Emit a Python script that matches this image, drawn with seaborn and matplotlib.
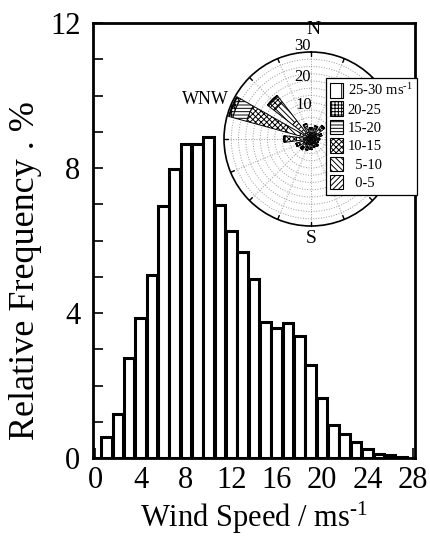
import numpy as np
import matplotlib
matplotlib.use('Agg')
import matplotlib.pyplot as plt
import seaborn as sns
from matplotlib.patches import Patch

# histogram data: bin centre (m/s) and relative frequency (%)
speed_bins = list(range(1, 28))
rel_freq = [0.57, 1.21, 2.75, 3.85, 5.05, 6.95, 7.96, 8.65, 8.65, 8.86,
            6.98, 6.27, 5.69, 4.94, 3.74, 3.58, 3.72, 3.37, 2.57, 1.65,
            0.91, 0.66, 0.43, 0.25, 0.11, 0.07, 0.03]

# wind rose data: 16 directions, frequency (%) per speed class
directions = ['N', 'NNE', 'NE', 'ENE', 'E', 'ESE', 'SE', 'SSE',
              'S', 'SSW', 'SW', 'WSW', 'W', 'WNW', 'NW', 'NNW']
dir_deg = [i * 22.5 for i in range(16)]
c0_5 = [2.0, 2.3, 2.5, 2.0, 1.6, 1.6, 1.8, 1.6, 1.8, 2.0, 2.3, 2.5, 2.5, 4.0, 8.0, 2.5]
c5_10 = [1.2, 1.4, 1.8, 1.2, 0.9, 0.8, 0.9, 0.9, 1.1, 1.2, 1.4, 1.6, 2.5, 5.0, 8.0, 2.0]
c10_15 = [0.6, 0.8, 1.2, 0.6, 0.4, 0.3, 0.4, 0.4, 0.6, 0.7, 0.8, 1.0, 4.0, 14.0, 2.5, 0.8]
c15_20 = [0.1, 0.2, 0.4, 0.1, 0.1, 0.0, 0.1, 0.1, 0.1, 0.2, 0.2, 0.3, 0.3, 5.0, 0.5, 0.2]
c20_25 = [0.0, 0.0, 0.1, 0.0, 0.0, 0.0, 0.0, 0.0, 0.0, 0.0, 0.0, 0.0, 0.0, 1.2, 0.0, 0.0]
c25_30 = [0.0, 0.0, 0.0, 0.0, 0.0, 0.0, 0.0, 0.0, 0.0, 0.0, 0.0, 0.0, 0.0, 0.3, 0.0, 0.0]
class_vals = [c0_5, c5_10, c10_15, c15_20, c20_25, c25_30]
hatches = ['//////', '\\\\\\\\\\\\', 'xxxxxx', '-----', '+++++', '|']
legend_labels = ['  0-5', '  5-10', '10-15', '15-20', '20-25',
                 r'25-30 ms$^{\text{-1}}$']

sns.set_style('ticks')
plt.rcParams['font.family'] = ['Liberation Serif', 'DejaVu Serif']
plt.rcParams['mathtext.fontset'] = 'custom'
plt.rcParams['mathtext.rm'] = 'Liberation Serif'
plt.rcParams['mathtext.it'] = 'Liberation Serif:italic'
plt.rcParams['hatch.linewidth'] = 0.7
for k in ['text.color', 'axes.labelcolor', 'xtick.color', 'ytick.color', 'axes.edgecolor']:
    plt.rcParams[k] = 'black'

W, H = 431, 538
fig = plt.figure(figsize=(W / 100, H / 100), dpi=100)


def px(x, y):
    return x / W, 1 - y / H


# main histogram
ax = fig.add_axes([93 / W, 1 - 458 / H, (415 - 93) / W, (458 - 23) / H])
sns.barplot(x=speed_bins, y=rel_freq, native_scale=True, width=0.92,
            color='white', saturation=1, edgecolor='black', linewidth=2.2, ax=ax)
ax.set_xlim(-0.2, 28.2)
ax.set_ylim(0, 12)
ax.set_xticks(range(0, 29, 4))
ax.set_yticks(range(0, 13, 4))
ax.set_yticks(range(0, 13), minor=True)
ax.tick_params(axis='both', which='both', direction='in', labelsize=22,
               width=1.2, length=7, top=False, right=False)
ax.tick_params(axis='y', pad=9)
ax.tick_params(axis='x', pad=6)
for s in ax.spines.values():
    s.set_linewidth(2)
ax.set_xlabel(r'Wind Speed / ms$^{\text{-1}}$', fontsize=22, labelpad=3)
ax.set_ylabel('Relative Frequency . %', fontsize=26)
ax.yaxis.set_label_coords(-0.158, 0.43)

# wind rose inset
cx, cy, r = 311, 139, 87
pax = fig.add_axes([(cx - r) / W, 1 - (cy + r) / H, 2 * r / W, 2 * r / H],
                   projection='polar')
pax.set_theta_zero_location('N')
pax.set_theta_direction(-1)
theta = np.deg2rad(dir_deg)
bottom = np.zeros(len(theta))
for vals, hatch in zip(class_vals, hatches):
    v = np.array(vals)
    pax.bar(theta, v, width=0.25, bottom=bottom, color='white',
            edgecolor='black', hatch=hatch, linewidth=0.7, zorder=3)
    bottom += v
pax.set_ylim(0, 30)
pax.set_yticks(np.arange(2.5, 30, 2.5))
pax.set_yticklabels([])
pax.set_xticks(theta)
pax.set_xticklabels([])
pax.grid(True, color='#999999', linestyle=':', linewidth=0.7)
pax.spines['polar'].set_linewidth(1.2)
pax.tick_params(length=0)
for t in theta:
    pax.plot([t, t], [28.6, 30], color='black', lw=1, zorder=4, clip_on=False)

fig.text(*px(313, 29), 'N', fontsize=14, ha='center', va='center')
fig.text(*px(311, 239), 'S', fontsize=14, ha='center', va='center')
fig.text(*px(205, 100), 'WNW', fontsize=13, ha='center', va='center')
fig.text(*px(311, 46), '30', fontsize=12, ha='right', va='center')
fig.text(*px(311, 77), '20', fontsize=12, ha='right', va='center')
fig.text(*px(312, 105), '10', fontsize=12, ha='right', va='center')

handles = [Patch(facecolor='white', edgecolor='black', hatch=h, linewidth=0.8)
           for h in hatches]
leg = fig.legend(handles[::-1], legend_labels[::-1], loc='upper left',
                 bbox_to_anchor=px(326, 78), fontsize=10.5, frameon=True,
                 fancybox=False, edgecolor='black', framealpha=1,
                 handlelength=0.85, handleheight=1.15, handletextpad=0.35,
                 labelspacing=0.22, borderpad=0.3, borderaxespad=0)
leg.get_frame().set_linewidth(0.9)

fig.savefig('out.png', dpi=100)
